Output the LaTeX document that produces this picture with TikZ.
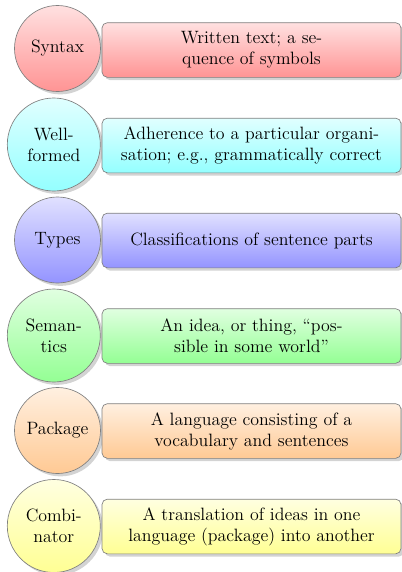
\documentclass[tikz,border=0pt]{standalone}
\usetikzlibrary{shadows}
\begin{document}
\begin{tikzpicture}[x=0.75pt,y=-0.75pt,
  titlecirc/.style={circle, draw=gray, line width=0.5pt, top color=#1!12, bottom color=#1!42,
    drop shadow={opacity=0.35}, font=\fontsize{13.4}{15.8}\selectfont, align=center, inner sep=1pt},
  smallc/.style={minimum size=64.5pt},
  bigc/.style={minimum size=69.75pt},
  descbox/.style={rectangle, rounded corners=4pt, draw=gray, line width=0.5pt, top color=#1!12, bottom color=#1!42,
    drop shadow={opacity=0.35}, font=\fontsize{13.4}{15.8}\selectfont, align=center, minimum width=224.25pt, minimum height=41pt, inner sep=2pt}]
\useasboundingbox (0,0) rectangle (402,572);
% row 1
\node[titlecirc=red, smallc] (t1) at (57.5,48.5) {Syntax};
\node[descbox=red] (d1) at (251.5,50) {Written text; a se-\\quence of symbols};
% row 2
\node[titlecirc=cyan, bigc] (t2) at (53.8,144.5) {Well-\\formed};
\node[descbox=cyan] (d2) at (251.5,145.5) {Adherence to a particular organi-\\sation; e.g., grammatically correct};
% row 3
\node[titlecirc=blue, smallc] (t3) at (57.5,240) {Types};
\node[descbox=blue] (d3) at (251.5,240.5) {Classifications of sentence parts};
% row 4
\node[titlecirc=green, bigc] (t4) at (53.8,335.5) {Seman-\\tics};
\node[descbox=green] (d4) at (251.5,336) {An idea, or thing, “pos-\\sible in some world”};
% row 5
\node[titlecirc=orange, smallc] (t5) at (57.5,430.5) {Package};
\node[descbox=orange] (d5) at (251.5,431) {A language consisting of a\\vocabulary and sentences};
% row 6
\node[titlecirc=yellow, bigc] (t6) at (53.8,526) {Combi-\\nator};
\node[descbox=yellow] (d6) at (251.5,526.5) {A translation of ideas in one\\language (package) into another};
\end{tikzpicture}
\end{document}
